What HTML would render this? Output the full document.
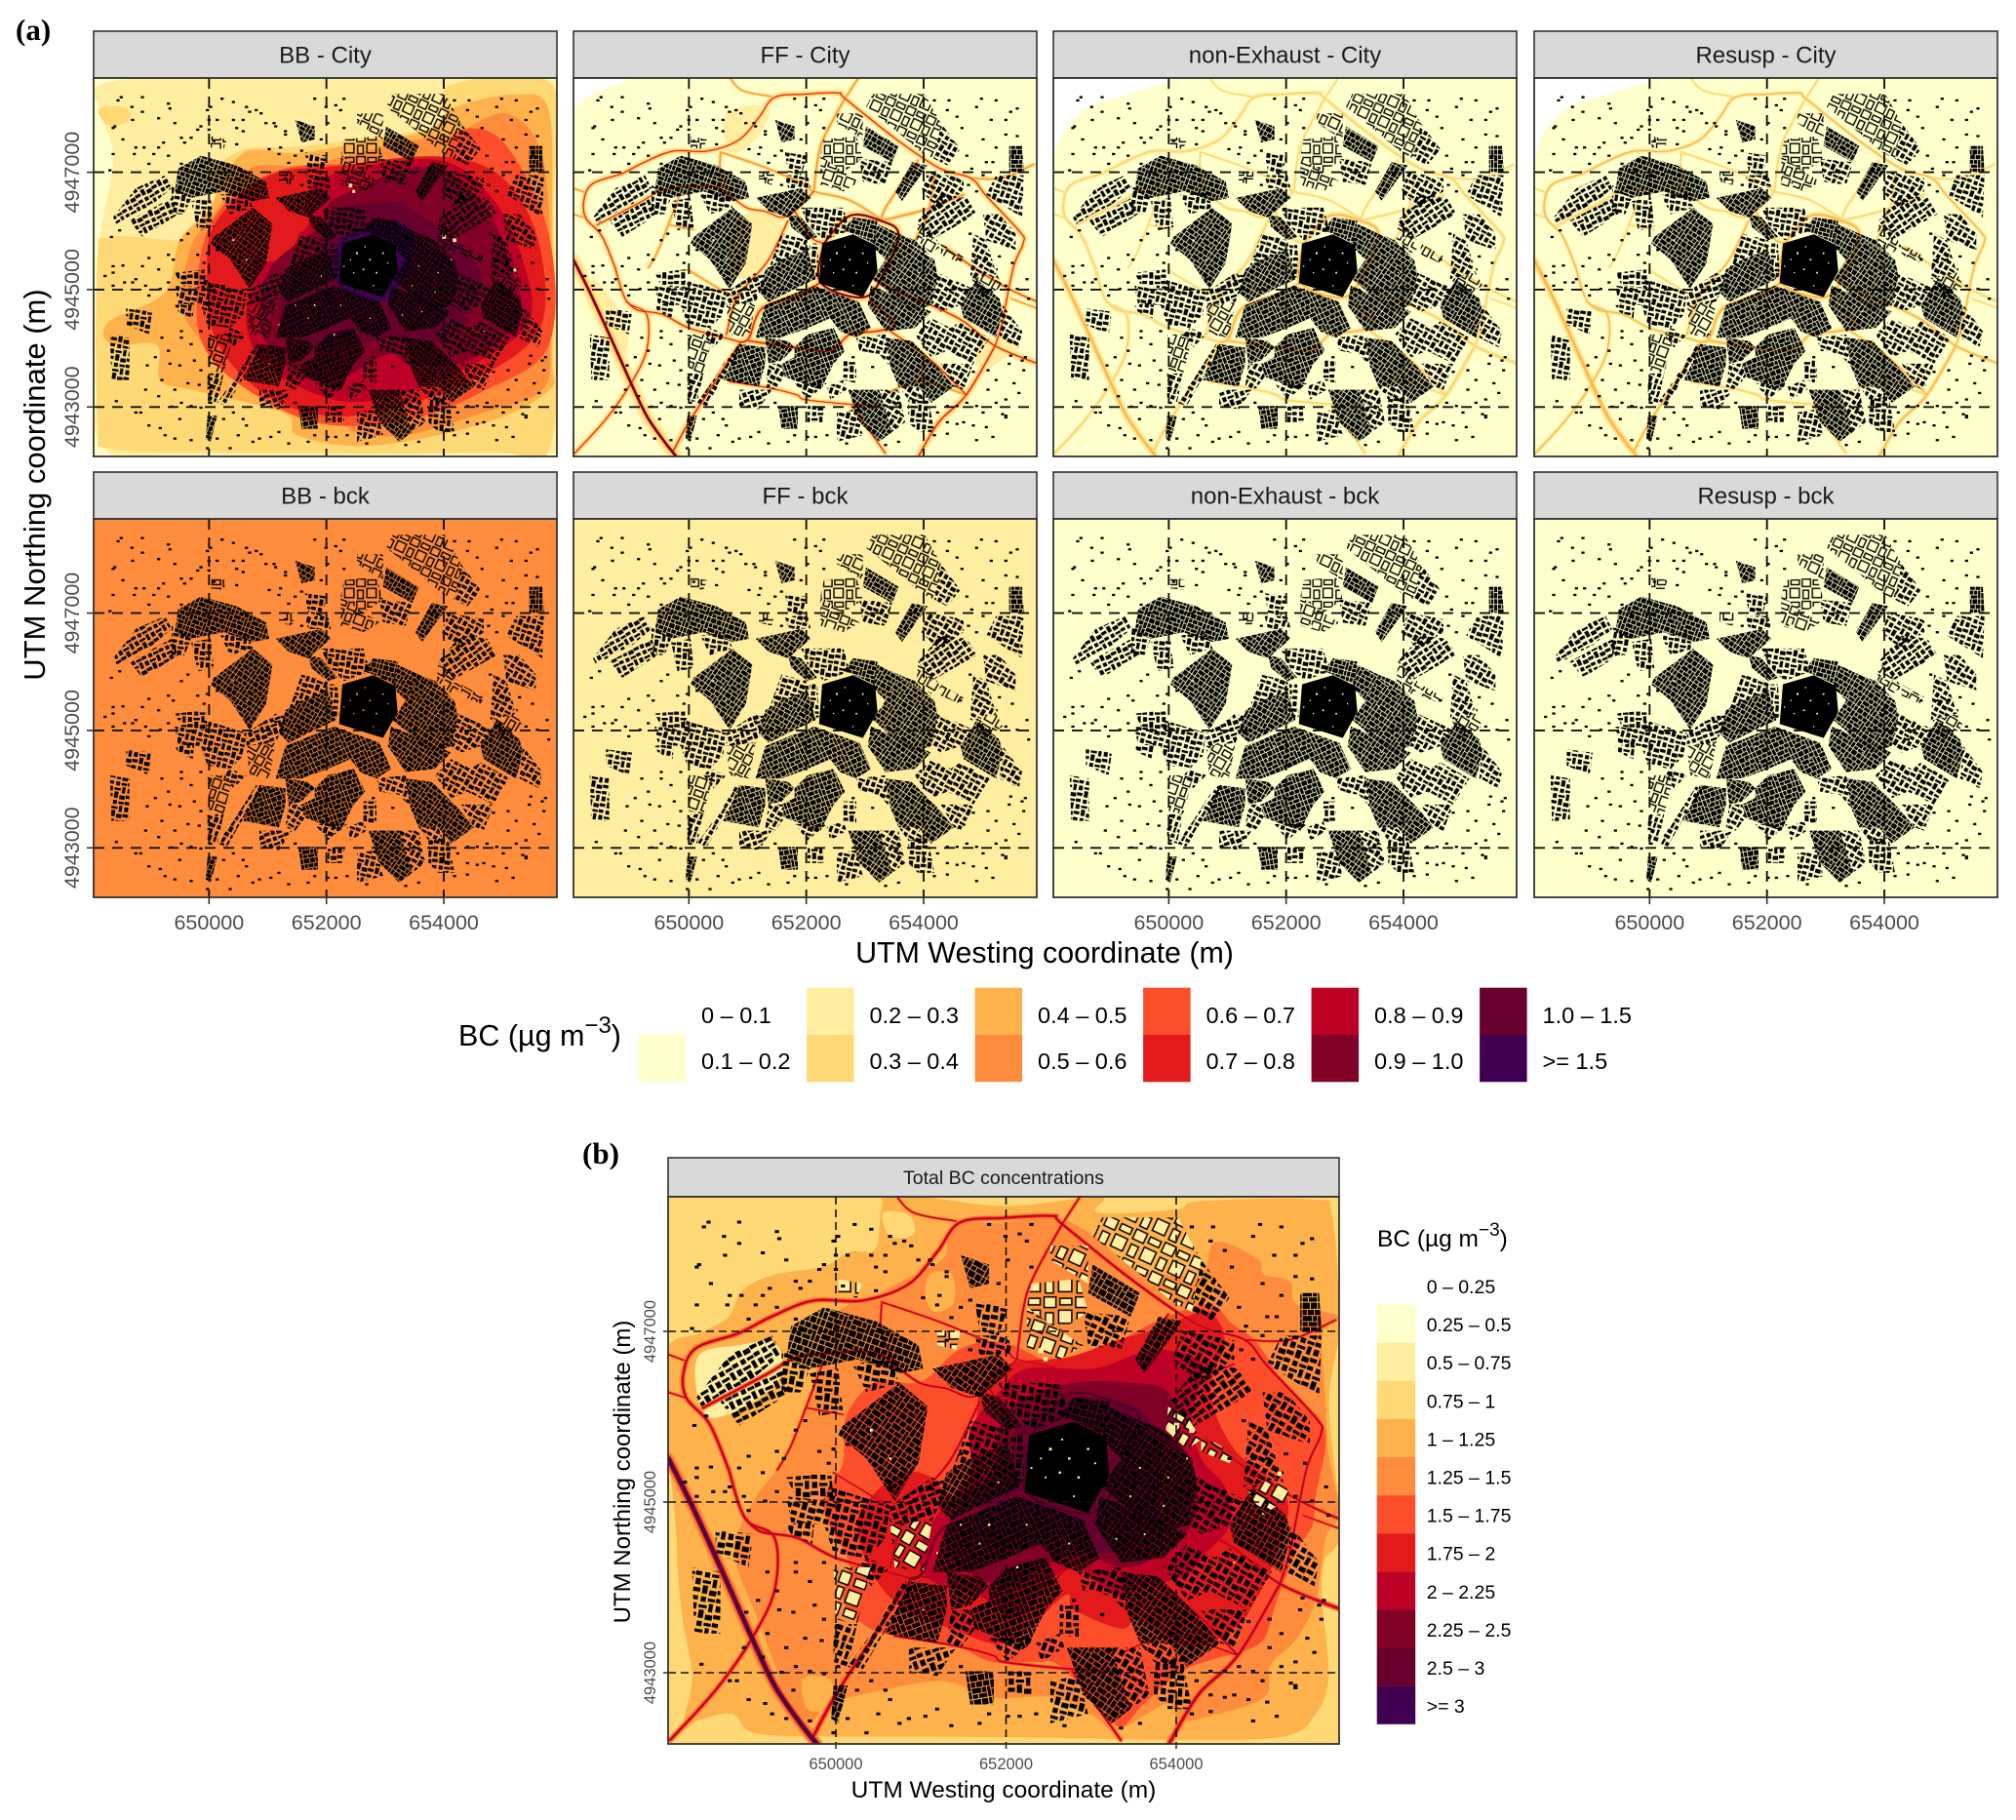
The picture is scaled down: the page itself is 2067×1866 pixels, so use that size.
<!DOCTYPE html>
<html lang="en">
<head>
<meta charset="utf-8">
<title>BC concentration maps</title>
<style>
html,body{margin:0;padding:0;background:#fff;}
svg{display:block;font-family:"Liberation Sans",sans-serif;}
</style>
</head>
<body>
<svg id="figure" xmlns="http://www.w3.org/2000/svg" width="2067" height="1866" viewBox="0 0 2067 1866">
<defs id="defs"></defs>
<rect width="2067" height="1866" fill="#fff"/>
<text x="16" y="41" font-family="Liberation Serif" font-weight="bold" font-size="31" fill="#000">(a)</text>
<text x="597" y="1193" font-family="Liberation Serif" font-weight="bold" font-size="31" fill="#000">(b)</text>
<text transform="translate(46,497) rotate(-90)" text-anchor="middle" font-size="31" fill="#000">UTM Northing coordinate (m)</text>
<text x="1071" y="987" text-anchor="middle" font-size="30.4" fill="#000">UTM Westing coordinate (m)</text>
<text x="470" y="1072" font-size="30.5" fill="#000">BC (µg m<tspan font-size="24" dy="-13">−3</tspan><tspan dy="13">)</tspan></text>
<text transform="translate(646,1509) rotate(-90)" text-anchor="middle" font-size="24" fill="#000">UTM Northing coordinate (m)</text>
<text x="1029" y="1843" text-anchor="middle" font-size="24.5" fill="#000">UTM Westing coordinate (m)</text>
<text x="1412" y="1278" font-size="24.5" fill="#000">BC (µg m<tspan font-size="19" dy="-11">−3</tspan><tspan dy="11">)</tspan></text>
<g id="panels"></g>
<g id="legendA"></g>
<g id="legendB"></g>
</svg>
<script>
/* ---------- axis ticks ---------- */
const xTickValues = [650000, 652000, 654000];
const yTickValues = [4943000, 4945000, 4947000];

/* ---------- legends ---------- */
const legendALabels = ['0 – 0.1','0.1 – 0.2','0.2 – 0.3','0.3 – 0.4','0.4 – 0.5','0.5 – 0.6','0.6 – 0.7','0.7 – 0.8','0.8 – 0.9','0.9 – 1.0','1.0 – 1.5','>= 1.5'];
const legendBLabels = ['0 – 0.25','0.25 – 0.5','0.5 – 0.75','0.75 – 1','1 – 1.25','1.25 – 1.5','1.5 – 1.75','1.75 – 2','2 – 2.25','2.25 – 2.5','2.5 – 3','>= 3'];
const classColors = ['#ffffff','#ffffcc','#ffeda0','#fed976','#feb24c','#fd8d3c','#fc4e2a','#e31a1c','#bd0026','#800026','#67002d','#3f004f'];

/* ---------- digitised map layers: flat u,v lists on the map grid (1 unit = 2000/361 m; u=355 at E650000, v=291 at N4947000) ---------- */
const bbCityContours = [
 [2,[60,10,700,5,1400,5,1425,60,1425,1120,1380,1155,300,1160,30,1140,12,900,10,600,20,480,60,250,30,120]],
 [3,[1100,22,1410,22,1415,400,1410,1112,1204,1152,400,1152,56,1142,12,1062,12,562,56,490,355,490,370,300,460,222,630,212,860,182,1065,142]],
 [3,[20,92,100,92,110,130,60,150,25,130]],
 [4,[1110,92,1296,52,1400,102,1410,462,1410,862,1400,962,1204,1062,860,1132,630,1102,585,1032,309,962,205,932,194,822,56,822,45,752,218,662,264,502,355,402,460,232,630,232,860,192,1032,162]],
 [5,[1110,172,1260,110,1360,190,1400,400,1405,800,1380,960,1200,1030,960,1100,800,1090,760,1040,560,1000,430,880,340,820,270,700,300,520,370,420,480,280,650,270,860,220,1000,190]],
 [6,[1125,162,1263,202,1400,482,1400,822,1204,962,970,1052,688,1062,447,942,332,812,320,622,355,462,447,352,630,272,1032,262]],
 [7,[1055,242,1250,302,1365,492,1377,762,1204,912,975,1002,745,1042,538,982,378,812,349,592,378,442,538,302,745,272]],
 [8,[1055,252,1227,372,1320,562,1342,742,1204,862,952,972,745,992,538,892,470,762,493,612,504,552,653,462,653,382,722,302]],
 [7,[505,450,590,410,640,440,600,540,520,560]],
 [9,[1032,272,1204,402,1285,582,1308,742,1147,872,974,882,906,850,745,932,631,912,516,782,539,592,688,462,745,372]],
 [10,[975,402,1135,522,1193,642,1090,802,906,802,722,832,585,772,585,642,688,542,745,412,929,382]],
 [11,[928,442,986,522,906,682,757,642,757,502]]
];
const totalContours = [
 [4,[-3,330,66,295,128,260,156,205,225,171,328,154,383,123,439,116,452,33,480,0,711,26,915,6,911,40,1077,33,1125,16,1366,12,1408,47,1422,281,1401,446,1425,708,1390,780,1387,866,1400,1020,1373,1100,1304,1148,1077,1155,780,1150,411,1148,342,1148,183,1141,135,1100,66,1113,30,1130,50,1024,30,900,20,800,15,700,-3,500]],
 [2,[66,340,150,320,225,316,240,380,180,440,90,474,60,420]],
 [3,[455,40,510,45,520,85,470,90]],
 [5,[238,570,294,453,342,268,445,212,494,185,583,137,604,68,711,61,815,47,911,95,987,157,1125,171,1160,102,1249,137,1263,171,1318,185,1332,233,1422,260,1387,295,1394,446,1401,556,1422,673,1394,728,1373,859,1332,941,1277,997,1263,1065,1139,1107,1084,1113,1056,1079,952,1134,904,1106,815,1065,687,1065,583,1031,445,1052,342,1079,300,1120,259,1107,225,996,190,900,140,760,180,650]],
 [4,[555,170,600,170,605,230,565,250,545,215]],
 [4,[285,1025,345,1030,340,1085,295,1090]],
 [6,[376,473,439,398,535,398,618,329,711,315,849,371,918,329,973,302,1042,267,1146,233,1194,274,1235,302,1263,336,1318,419,1380,474,1394,529,1373,639,1366,701,1332,756,1291,859,1263,941,1215,969,1160,983,1090,1010,1008,1079,960,1127,918,1086,828,997,780,990,687,990,604,955,480,935,418,914,370,859,383,780,340,700,330,640,370,570]],
 [7,[500,590,560,600,600,640,650,560,660,420,720,360,850,345,950,310,1040,285,1140,250,1180,310,1150,420,1200,540,1310,640,1290,760,1250,850,1200,920,1100,960,1000,900,960,920,860,880,840,850,720,950,600,920,500,880,430,800,400,700,430,640]],
 [8,[700,420,760,370,900,370,990,340,1050,330,1130,360,1110,470,1130,560,1180,620,1190,700,1140,760,1090,810,1000,830,950,850,860,790,800,830,740,900,660,850,560,820,530,760,570,680,640,600,640,500]],
 [9,[740,440,860,400,980,400,1060,420,1090,520,1120,610,1110,700,1030,770,960,790,870,760,790,790,720,830,620,790,590,720,630,640,690,590,700,500]],
 [10,[780,470,870,430,990,450,1040,520,1040,640,1020,730,920,760,820,730,720,750,650,730,670,650,730,600,730,510]]
];
const ffCityContours = [
 [2,[505,440,590,400,640,430,620,520,560,620,490,600,480,520]],
 [2,[60,620,130,700,170,800,140,860,100,760,50,680]],
 [2,[1240,830,1330,800,1370,830,1300,880,1250,910]],
 [2,[470,110,600,90,560,190,480,230]]
];
const cornerFF = [0,[0,0,170,0,110,30,40,60,0,90]];
const cornerCity = [0,[0,0,360,0,250,45,110,90,30,170,0,230]];

/* roads: [intensity, u,v list] */
const roadMotorway = [2,[0,560,50,660,110,790,175,935,225,1040,280,1120,315,1164]];
const roadRingNorth = [1,[128,584,87,487,38,432,32,377,59,326,149,295,218,260,307,226,411,226,508,192,570,123,618,61,711,51,815,47,835,64,987,185,1125,278,1222,309,1270,364,1373,474,1384,508,1353,584,1318,756,1297,825]];
const roadRingSouth = [1.25,[1297,825,1208,976,1125,1058,1063,1161]];
const roadRingWest = [1,[128,584,163,687,225,728,225,838,176,942,100,1050,4,1155]];
const roadNorthBranchA = [.7,[877,0,835,64]];
const roadNorthBranchB = [.6,[480,0,520,40,610,58]];
const roadWestSpurA = [.6,[0,340,32,352]];
const roadWestSpurB = [.6,[0,420,38,432]];
const roadNorthRadial = [.8,[835,64,773,178,752,247,739,350]];
const roadNwInner = [.9,[73,453,204,384,273,346,356,336,439,336,480,363,535,401,590,412,640,430,680,410,739,350]];
const roadNwLink = [.7,[452,233,452,295,480,357]];
const roadNorthEW = [.7,[452,229,583,274,711,329,739,350,849,377,945,435]];
const roadSwGrid = [.7,[328,357,294,446,259,535,231,584]];
const roadSwGrid2 = [.6,[294,453,370,467]];
const roadOldRing = [1.5,[770,510,850,425,945,440,1000,480,960,590,895,675,760,630,770,510]];
const roadOldSpurA = [1,[680,410,730,490,770,510]];
const roadWestArc = [1.4,[760,630,690,670,580,710,540,800,514,814]];
const roadSwDiagonal = [1.2,[514,814,445,921,356,1058,307,1148]];
const roadWestDiag = [1,[660,440,600,560,540,630,500,680,470,790]];
const roadSouthArc = [1.3,[540,810,680,830,790,840,850,790,930,780,990,760,915,690]];
const roadNeRadial = [.8,[945,440,1050,415,1100,400,1200,360]];
const roadNeRadial2 = [.8,[1060,255,1000,340,960,400,945,440]];
const roadNeLink = [.8,[1050,500,1090,420,1110,300]];
const roadEastArm = [1.1,[910,610,1000,660,1100,700,1200,750,1297,825,1428,880]];
const roadEastArm2 = [.9,[1140,520,1240,590,1340,650,1428,690]];
const roadEastArm3 = [.6,[1346,680,1422,708]];
const roadNeArm = [.7,[1222,309,1318,309,1415,267]];
const roadSwRing = [1,[163,687,197,715,273,728,355,770,480,804,514,814]];
const roadWestGrid = [.7,[350,590,450,650,510,680]];
const roadSeDiag = [1,[975,780,1100,870,1208,976]];
const roadSouthEW = [.9,[480,935,604,955,687,976,711,990,828,1003,939,1010]];
const roadSouthSpur = [.9,[856,1010,959,1155]];
const roadSouthSe = [.7,[966,969,1070,935,1208,976]];
const roadSouthLink = [.7,[1070,935,1077,859]];
const roads = [roadRingWest,roadRingNorth,roadRingSouth,roadNorthBranchA,roadNorthBranchB,roadWestSpurA,roadWestSpurB,roadNorthRadial,roadNwInner,roadNwLink,roadNorthEW,roadSwGrid,roadSwGrid2,roadOldSpurA,roadWestDiag,roadNeRadial,roadNeRadial2,roadNeLink,roadEastArm,roadEastArm2,roadEastArm3,roadNeArm,roadSwRing,roadWestGrid,roadSeDiag,roadSouthEW,roadSouthSpur,roadSouthSe,roadSouthLink,roadSouthArc,roadWestArc,roadSwDiagonal,roadOldRing,roadMotorway];

/* building blocks: [grid angle, u,v list] */
const blocksSolid = [
 [0,[765,510,860,482,928,515,935,595,890,675,755,632]]
];
const blocksDense = [
 [35,[1000,490,1110,560,1120,610,1100,700,1040,720,920,620,960,560]],
 [35,[915,640,1010,680,1100,720,1050,770,960,780,905,700]],
 [-25,[590,700,740,640,880,690,915,770,870,800,820,780,790,740,720,770,640,800,560,800]],
 [30,[590,590,640,560,720,530,745,620,680,650,600,690,570,660]],
 [-20,[680,830,720,790,800,770,835,840,800,880,760,960,730,950,650,920,640,880,680,860]],
 [35,[960,800,1040,810,1120,890,1170,950,1100,1000,1060,950,1000,950,975,890]],
 [-20,[510,820,590,830,590,880,570,950,460,930,490,870]],
 [35,[370,490,490,400,550,450,530,570,480,650,420,560,360,510]],
 [20,[260,280,330,240,440,270,530,320,540,370,490,380,400,350,300,370,250,350]],
 [35,[560,370,700,340,730,370,660,430,600,410]],
 [50,[660,420,700,430,750,490,720,500,670,460]],
 [30,[620,130,680,150,680,190,640,200]],
 [30,[900,150,1000,210,980,260,890,210]],
 [-60,[990,350,1040,260,1090,270,1010,380]],
 [0,[1340,210,1380,210,1385,290,1340,290]],
 [30,[1190,700,1240,620,1310,680,1320,720,1300,800,1200,740]],
 [35,[845,960,940,960,980,1090,940,1120,880,1060]],
 [-10,[630,1010,690,1010,690,1080,640,1080]],
 [-70,[350,1040,380,1040,360,1120,345,1110]],
 [15,[860,430,935,440,925,510,860,480,830,470]],
 [30,[590,800,660,810,680,830,640,870,600,880]],
 [30,[935,450,1000,480,1050,500,1100,550,1000,490,960,560,920,520]]
];
const blocksMedium = [
 [-30,[60,430,130,340,220,300,240,340,180,390,120,420,70,450]],
 [-25,[110,440,240,370,260,420,150,490]],
 [5,[300,380,360,370,370,460,320,470]],
 [10,[390,360,470,350,490,400,420,420]],
 [5,[725,510,750,510,755,610,735,620]],
 [-60,[380,1000,430,930,500,820,520,830,450,940,410,1010]],
 [10,[650,230,720,240,700,300,660,290]],
 [30,[1090,290,1200,310,1200,350,1120,400,1070,350]],
 [-35,[1060,440,1130,360,1210,370,1240,420,1100,500]],
 [20,[1300,300,1385,300,1380,430,1270,360]],
 [30,[1260,420,1310,420,1360,480,1360,530,1270,500]],
 [30,[1160,770,1190,750,1280,800,1230,880,1150,840]],
 [30,[1320,700,1380,780,1370,830,1310,800]],
 [0,[250,600,345,590,350,650,270,640]],
 [15,[340,620,470,660,460,730,420,770,350,760,330,700]],
 [10,[250,700,310,690,305,740,260,720]],
 [10,[100,710,180,720,170,790,100,760]],
 [10,[50,790,110,800,110,930,55,930]],
 [5,[1030,990,1090,980,1110,1090,1060,1090,1030,1060]],
 [0,[720,1010,770,1010,770,1060,720,1060]],
 [15,[810,1030,870,1020,890,1100,810,1120]],
 [-20,[510,960,610,960,570,1020,510,1010]],
 [20,[680,940,780,940,720,990]],
 [0,[830,870,870,870,870,940,830,930]],
 [20,[640,480,720,500,725,530,640,560,600,590]],
 [10,[700,400,830,400,850,470,770,500,720,450]],
 [30,[1120,600,1230,650,1190,700,1130,720,1100,700]],
 [30,[1100,740,1160,770,1150,840,1100,860,1050,790]],
 [20,[870,800,960,790,975,890,940,850,880,840]],
 [-20,[470,660,560,600,590,620,560,690,470,700]],
 [30,[600,880,640,880,650,920,620,960,590,950]],
 [20,[780,950,830,930,840,960,790,990]],
 [30,[1130,880,1230,880,1200,960,1170,950]],
 [30,[1000,950,1060,950,1080,1000,1030,990]],
 [30,[940,960,1000,960,1020,1060,980,1090]],
 [10,[240,330,300,370,280,420,240,420]],
 [15,[250,640,340,650,330,700,260,695]],
 [15,[420,770,470,790,430,830,400,790]],
 [-70,[350,910,400,910,380,1000,350,990]],
 [15,[650,300,720,300,730,340,660,340]],
 [25,[880,250,980,260,960,330,890,320]],
 [30,[1230,480,1270,500,1300,600,1220,620]],
 [30,[1130,140,1190,220,1150,270,1110,250]]
];
const blocksOutline = [
 [0,[770,190,870,180,890,250,830,290,760,240]],
 [25,[810,110,890,110,890,190,810,140]],
 [25,[920,50,1080,50,1130,140,1110,250,1070,230,1000,170,900,90]],
 [30,[1060,450,1100,470,1130,520,1100,540,1055,500]],
 [30,[1130,510,1200,550,1190,570,1130,545]],
 [-60,[470,700,560,690,540,800,480,790]],
 [-70,[350,790,430,790,400,910,355,900]],
 [0,[570,290,620,290,610,330,570,320]],
 [0,[360,180,410,190,400,220,360,215]],
 [30,[1225,620,1300,600,1320,640,1260,680]],
 [20,[760,240,830,290,880,320,830,350,760,330]]
];
const scatteredBuildings = [85,60,150,60,230,80,235,95,118,90,150,105,60,155,65,150,90,190,130,215,125,235,60,235,50,285,170,265,200,215,215,200,185,235,230,240,270,185,300,185,330,150,350,100,360,90,395,65,430,130,440,155,470,90,515,110,370,195,440,205,460,165,355,130,355,160,320,160,380,130,270,265,290,480,270,500,55,490,80,470,555,140,590,165,600,262,570,235,680,65,715,90,745,85,770,65,760,100,770,155,720,140,700,190,1255,65,1300,70,1345,105,1365,95,1195,155,1155,70,1110,70,1260,190,1300,215,1365,180,1330,175,1270,260,1225,280,1215,330,1350,240,1220,480,1240,560,1300,590,1330,640,1365,650,1350,570,1190,560,1170,650,1150,680,150,580,170,555,200,590,60,580,90,578,95,630,130,620,230,545,245,560,320,545,340,570,230,630,205,650,60,600,270,800,270,780,190,860,165,885,235,880,265,885,210,930,290,940,325,945,355,955,70,995,130,1030,145,1030,265,1050,205,1078,220,1100,300,1115,380,1110,445,1100,470,1070,510,1110,545,1105,570,1090,620,1000,720,1105,745,1105,780,1100,400,1050,430,1030,460,1050,1200,1060,1355,940,1330,1040,1290,1105,1240,1115,1180,1065,1230,1070,1270,1075,1210,1000,1240,1010,1300,1000,1380,870,1385,900,1345,855,1275,900,1230,905,860,860,920,890,1000,1000,360,1000,330,1015,300,1010,270,1000,240,1012,1150,1010,1120,1030,1180,1010,1000,1030,350,540,380,530,300,820,330,780,620,550,580,610,560,625,470,620,680,1100,1330,1045,1320,1035,75,70,120,130,200,125,250,140,280,200,155,215,430,75,480,105,500,100,460,130,530,140,560,150,590,175,540,220,575,215,620,240,640,225,590,310,640,330,1150,100,1180,120,1130,170,1240,90,1285,130,1330,130,1260,300,1240,350,1290,260,1210,240,1310,550,1270,560,1395,620,1400,680,1390,860,1340,880,1300,930,1275,960,1260,1030,1330,990,1370,970,1150,1060,1110,1100,1150,1095,120,630,160,640,170,670,60,640,35,610,210,800,230,840,160,960,200,980,250,960,310,870,330,900,170,1070,250,1110,350,1140,420,1140,490,1120,600,1125,660,1120,840,1125,960,1130,1000,1120];
const lightSpecks = [810,540,6,850,560,5,830,590,5,870,600,5,890,540,5,800,600,4,770,580,4,1078,490,11,1110,500,11,1296,592,9,790,332,11,800,350,9,470,560,5,620,700,4,740,790,5,850,740,4,980,640,4,1060,600,4,1010,720,4,700,610,4,660,740,4,540,880,4,1200,780,4,1100,560,4,430,500,6,835,520,4,905,570,4,790,560,4,860,640,4,570,760,4,680,700,5,760,700,4,1000,580,4,1050,660,4,950,730,4];

/* building texture tiles, in tile units of a 24-unit square */
const tileDense = [[0,0,7,6],[8,0,6,6],[15,0,3,6],[19,0,4,6],[0,7,4,5],[5,7,6,5],[12,7,6,5],[19,7,4,8],[0,13,9,5],[10,13,4,5],[15,13,3,10],[0,19,5,4],[6,19,8,4],[19,16,4,7]];
const tileMedium = [[0,0,6,4],[9,0,5,5],[16,1,7,3],[1,7,5,6],[8,8,8,3],[18,6,4,8],[0,16,7,4],[9,13,5,8],[16,17,7,5]];
const tileOutline = [[1,1,9,8],[13,2,9,5],[2,13,6,9],[12,11,10,10]];

/* ---------- panels: layout and per-panel styling ---------- */
const mapX = [96, 588, 1080, 1573];
const mapY = [80, 532];
const panelDefs = [
 {name:'BB - City',id:'bb-city',c:0,r:0,base:'#ffffcc',contours:bbCityContours,speck:'#ffeda0'},
 {name:'FF - City',id:'ff-city',c:1,r:0,base:'#ffffcc',corner:cornerFF,contours:ffCityContours,speck:'#ffffcc',
  roadLayers:[['#ffeda0',7,0],['#fed976',4,0],['#fd8d3c',1.8,0],['#e31a1c',.9,.9],['#800026',1.3,1.5]]},
 {name:'non-Exhaust - City',id:'non-exhaust-city',c:2,r:0,base:'#ffffcc',corner:cornerCity,contours:[],speck:'#ffffcc',
  roadLayers:[['#ffeda0',4,0],['#fed976',2,0],['#feb24c',.9,1.3]]},
 {name:'Resusp - City',id:'resusp-city',c:3,r:0,base:'#ffffcc',corner:cornerCity,contours:[],speck:'#ffffcc',
  roadLayers:[['#ffeda0',4,0],['#fed976',2.2,0],['#feb24c',1,1]]},
 {name:'BB - bck',id:'bb-bck',c:0,r:1,base:'#fd8d3c',contours:[],speck:'#fd8d3c'},
 {name:'FF - bck',id:'ff-bck',c:1,r:1,base:'#ffeda0',contours:[],speck:'#ffeda0'},
 {name:'non-Exhaust - bck',id:'non-exhaust-bck',c:2,r:1,base:'#ffffcc',contours:[],speck:'#ffffcc'},
 {name:'Resusp - bck',id:'resusp-bck',c:3,r:1,base:'#ffffcc',contours:[],speck:'#ffffcc'}
];
const NS = 'http://www.w3.org/2000/svg';
const panelsRoot = document.getElementById('panels');
const defsRoot = document.getElementById('defs');
function mk(tag, attrs, parent, txt){
  const e = document.createElementNS(NS, tag);
  for (const k in attrs) e.setAttribute(k, attrs[k]);
  if (txt !== undefined) e.textContent = txt;
  parent.appendChild(e);
  return e;
}
/* digitised grid -> UTM metres */
const utmE = u => 650000 + (u - 355) * 2000 / 361;
const utmN = v => 4947000 - (v - 291) * 2000 / 361;

function smoothPath(pts, closed, xf, yf){
  const P = [];
  for (let i = 0; i < pts.length; i += 2) P.push([xf(utmE(pts[i])), yf(utmN(pts[i+1]))]);
  const n = P.length;
  const at = i => closed ? P[(i + n) % n] : P[Math.max(0, Math.min(n - 1, i))];
  let d = 'M' + P[0][0].toFixed(1) + ' ' + P[0][1].toFixed(1);
  const segs = closed ? n : n - 1;
  for (let i = 0; i < segs; i++){
    const p0 = at(i-1), p1 = at(i), p2 = at(i+1), p3 = at(i+2);
    const c1x = p1[0] + (p2[0]-p0[0]) / 6, c1y = p1[1] + (p2[1]-p0[1]) / 6;
    const c2x = p2[0] - (p3[0]-p1[0]) / 6, c2y = p2[1] - (p3[1]-p1[1]) / 6;
    d += 'C' + c1x.toFixed(1) + ' ' + c1y.toFixed(1) + ' ' + c2x.toFixed(1) + ' ' + c2y.toFixed(1) + ' ' + p2[0].toFixed(1) + ' ' + p2[1].toFixed(1);
  }
  return d + (closed ? 'Z' : '');
}
function polyPath(pts, xf, yf){
  let d = '';
  for (let i = 0; i < pts.length; i += 2){
    d += (i ? 'L' : 'M') + xf(utmE(pts[i])).toFixed(1) + ' ' + yf(utmN(pts[i+1])).toFixed(1);
  }
  return d + 'Z';
}
const patternCache = {};
function blockPattern(key, angle, unit, tile, fill, strokeW){
  const id = 'pat-' + key + '-' + String(angle).replace('-', 'm');
  if (!patternCache[id]){
    patternCache[id] = true;
    const size = 24 * unit;
    const p = mk('pattern', {id:id, patternUnits:'userSpaceOnUse', width:size, height:size, patternTransform:'rotate(' + angle + ')'}, defsRoot);
    tile.forEach(t => {
      const r = mk('rect', {x:t[0] * unit, y:t[1] * unit, width:t[2] * unit, height:t[3] * unit, fill:fill}, p);
      if (strokeW){ r.setAttribute('stroke', '#000'); r.setAttribute('stroke-width', strokeW); }
    });
  }
  return 'url(#' + id + ')';
}

function drawPanel(cfg){
  const g = mk('g', {}, panelsRoot);
  
  
  const xf = e => cfg.x0 + (e - 650000) * cfg.kx;
  const yf = n => cfg.y0 + (4947000 - n) * cfg.ky;

  const strip = mk('rect', {x:cfg.left, y:cfg.top - cfg.stripH, width:cfg.w, height:cfg.stripH, fill:'#d9d9d9', stroke:'#333', 'stroke-width':1.6}, g);
  
  
  const stripLabel = mk('text', {x:cfg.left + cfg.w / 2, y:cfg.top - cfg.stripH / 2 + cfg.stripFont * .36, 'text-anchor':'middle', 'font-size':cfg.stripFont, fill:'#1a1a1a'}, g, cfg.name);
  
  

  const clipId = 'clip-' + cfg.id;
  const clip = mk('clipPath', {id:clipId}, defsRoot);
  mk('rect', {x:cfg.left, y:cfg.top, width:cfg.w, height:cfg.h}, clip);

  const map = mk('g', {'clip-path':'url(#' + clipId + ')'}, g);
  
  
  const base = mk('rect', {x:cfg.left, y:cfg.top, width:cfg.w, height:cfg.h, fill:cfg.base}, map);
  
  

  const allContours = (cfg.corner ? [cfg.corner] : []).concat(cfg.contours);
  const cGroup = mk('g', {}, map);
  
  
  allContours.forEach(ct => {
    const pth = mk('path', {d:smoothPath(ct[1], true, xf, yf), fill:classColors[ct[0]]}, cGroup);
    
    
  });

  if (cfg.roadLayers){
    const rGroup = mk('g', {fill:'none', 'stroke-linecap':'round', 'stroke-linejoin':'round', style:'mix-blend-mode:darken'}, map);
    
    
    cfg.roadLayers.forEach(layer => {
      roads.forEach(rd => {
        if (rd[0] < layer[2]) return;
        const pth = mk('path', {d:smoothPath(rd[1], false, xf, yf), stroke:layer[0], 'stroke-width':(layer[1] * rd[0]).toFixed(2)}, rGroup);
        
        
      });
    });
  }

  const bGroup = mk('g', {}, map);
  
  
  const key = cfg.big ? 'b' : 's';
  const unit = cfg.big ? 1.05 : .8;
  blocksDense.forEach(b => {
    const pth = mk('path', {d:polyPath(b[1], xf, yf), fill:blockPattern(key + 'd', b[0], unit, tileDense, '#000')}, bGroup);
    
    
  });
  blocksMedium.forEach(b => {
    const pth = mk('path', {d:polyPath(b[1], xf, yf), fill:blockPattern(key + 'm', b[0], unit, tileMedium, '#000')}, bGroup);
    
    
  });
  blocksOutline.forEach(b => {
    const fill = cfg.big ? blockPattern(key + 'o', b[0], 1.35, tileOutline, '#ffeda0', 1.5) : blockPattern(key + 'o', b[0], .95, tileOutline, 'none', 1.4);
    const pth = mk('path', {d:polyPath(b[1], xf, yf), fill:fill}, bGroup);
    
    
  });
  blocksSolid.forEach(b => {
    const pth = mk('path', {d:polyPath(b[1], xf, yf), fill:'#000'}, bGroup);
    
    
  });
  const szW = cfg.big ? 4.2 : 3.2, szH = cfg.big ? 3 : 2.3;
  for (let i = 0; i < scatteredBuildings.length; i += 2){
    const r = mk('rect', {x:(xf(utmE(scatteredBuildings[i])) - szW / 2).toFixed(1), y:(yf(utmN(scatteredBuildings[i+1])) - szH / 2).toFixed(1), width:szW, height:szH, fill:'#000'}, bGroup);
    
    
  }
  for (let i = 0; i < lightSpecks.length; i += 3){
    const d = lightSpecks[i+2] * cfg.kx * 5.54;
    const r = mk('rect', {x:(xf(utmE(lightSpecks[i])) - d / 2).toFixed(1), y:(yf(utmN(lightSpecks[i+1])) - d / 2).toFixed(1), width:d.toFixed(1), height:d.toFixed(1), fill:cfg.speck}, bGroup);
    
    
  }

  const gridG = mk('g', {stroke:'#111', 'stroke-width':cfg.big ? 1.6 : 1.9, 'stroke-dasharray':cfg.big ? '8 5' : '11 8'}, map);
  
  
  xTickValues.forEach(v => {
    const l = mk('line', {x1:xf(v), x2:xf(v), y1:cfg.top, y2:cfg.top + cfg.h}, gridG);
    
    
  });
  yTickValues.forEach(v => {
    const l = mk('line', {x1:cfg.left, x2:cfg.left + cfg.w, y1:yf(v), y2:yf(v)}, gridG);
    
    
  });

  const frame = mk('rect', {x:cfg.left, y:cfg.top, width:cfg.w, height:cfg.h, fill:'none', stroke:'#333', 'stroke-width':1.8}, g);
  
  

  if (cfg.showX){
    xTickValues.forEach(v => {
      const t = mk('line', {x1:xf(v), x2:xf(v), y1:cfg.top + cfg.h, y2:cfg.top + cfg.h + cfg.tick, stroke:'#333', 'stroke-width':1.6}, g);
      
      
      const lb = mk('text', {x:xf(v), y:cfg.top + cfg.h + cfg.xLabelDy, 'text-anchor':'middle', 'font-size':cfg.tickFont, fill:'#4d4d4d'}, g, String(v));
      
      
    });
  }
  if (cfg.showY){
    yTickValues.forEach(v => {
      const t = mk('line', {x1:cfg.left - cfg.tick, x2:cfg.left, y1:yf(v), y2:yf(v), stroke:'#333', 'stroke-width':1.6}, g);
      
      
      const lb = mk('text', {transform:'translate(' + (cfg.left - cfg.yLabelDx) + ',' + yf(v) + ') rotate(-90)', 'text-anchor':'middle', 'font-size':cfg.tickFont, fill:'#4d4d4d'}, g, String(v));
      
      
    });
  }
}

panelDefs.forEach(p => {
  const k = 361 / 3 / 2000;
  drawPanel(Object.assign({}, p, {
    left:mapX[p.c], top:mapY[p.r], w:475, h:388, stripH:48, stripFont:24,
    x0:mapX[p.c] + 355 / 3, y0:mapY[p.r] + 96.6, kx:k, ky:k,
    tick:7, tickFont:21.5, xLabelDy:33, yLabelDx:15, showX:p.r === 1, showY:p.c === 0
  }));
});
drawPanel({
  name:'Total BC concentrations', id:'total-bc', left:685, top:1227, w:688, h:561, stripH:40, stripFont:19.5,
  x0:857, y0:1365, kx:174.5 / 2000, ky:175 / 2000, base:'#fed976', contours:totalContours, speck:'#ffeda0', big:true,
  roadLayers:[['#fd8d3c',6,0],['#fc4e2a',4,0],['#e31a1c',2.4,0],['#bd0026',1.5,0],['#800026',2.4,1.4],['#3f004f',1.2,1.45]],
  tick:5, tickFont:16.5, xLabelDy:26, yLabelDx:13, showX:true, showY:true
});

/* ---------- legends ---------- */
const legendA = document.getElementById('legendA');
legendALabels.forEach((lab, i) => {
  const col = Math.floor(i / 2), row = i % 2;
  const sx = 654.6 + col * 172.5, sy = 1012.7 + row * 48.3;
  if (classColors[i] !== '#ffffff'){
    const r = mk('rect', {x:sx.toFixed(1), y:sy, width:48.5, height:48.3, fill:classColors[i]}, legendA);
    
    
  }
  const t = mk('text', {x:(719 + col * 172.5).toFixed(1), y:1049 + row * 47, 'font-size':23.5, fill:'#000'}, legendA, lab);
  
  
});
const legendB = document.getElementById('legendB');
legendBLabels.forEach((lab, i) => {
  if (classColors[i] !== '#ffffff'){
    const r = mk('rect', {x:1411.7, y:1337.6 + (i - 1) * 39.1, width:39.5, height:39.2, fill:classColors[i]}, legendB);
    
    
  }
  const t = mk('text', {x:1462.7, y:1326 + i * 39.1, 'font-size':19.5, fill:'#000'}, legendB, lab);
  
  
});
</script>
</body>
</html>
